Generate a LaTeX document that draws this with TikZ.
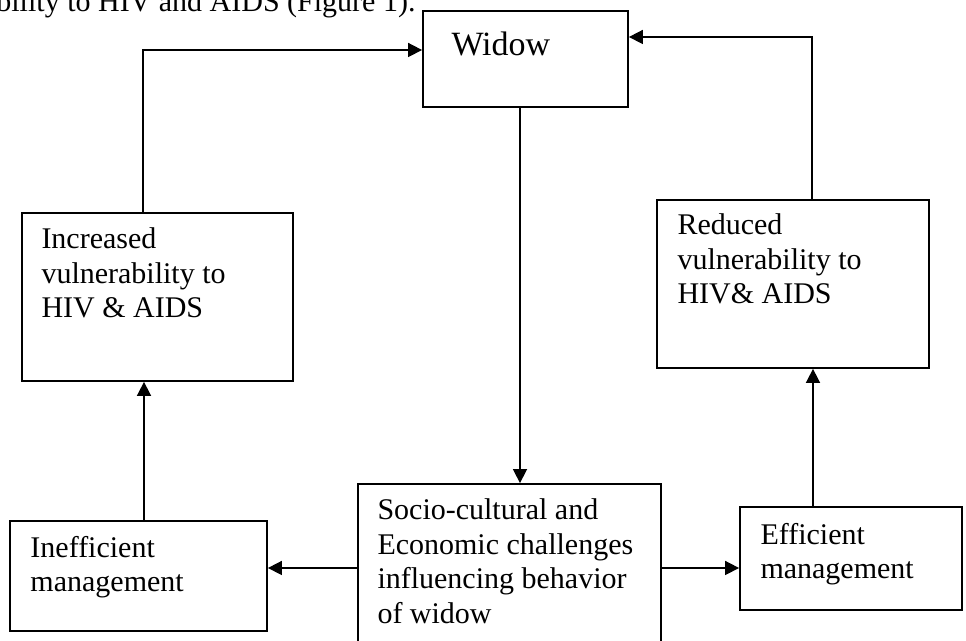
\documentclass[tikz,border=0pt]{standalone}
\usepackage{fontspec}
\setmainfont{Liberation Serif}
\usetikzlibrary{arrows.meta}
\begin{document}
\begin{tikzpicture}[x=0.5pt, y=0.5pt, >={Triangle[length=7pt,width=7pt]},
    box/.style={draw, line width=0.9pt, inner sep=0pt},
    txt/.style={font=\fontsize{15}{17.2}\selectfont, align=left, inner sep=0pt, anchor=north west},
    arr/.style={->, line width=0.8pt}]
    \useasboundingbox (0,0) rectangle (966,641);
    \clip (0,0) rectangle (966,641);
    % Line of body text above the figure
    \node[font=\fontsize{15}{17}\selectfont, anchor=base west, inner sep=0pt] (above) at (-4,629) {bility to HIV and AIDS (Figure 1).};
    % Boxes
    \node[box, minimum width=102.5pt, minimum height=48pt] (widow) at (525.5,582) {};
    \node[box, minimum width=135.5pt, minimum height=84pt] (inc) at (157.5,344) {};
    \node[box, minimum width=136pt, minimum height=84pt] (red) at (793,357) {};
    \node[box, minimum width=128.5pt, minimum height=55pt] (inef) at (138.5,65) {};
    \node[box, minimum width=151.5pt, minimum height=88pt] (socio) at (509.5,69) {};
    \node[box, minimum width=111pt, minimum height=51.5pt] (eff) at (851,82.5) {};
    % Texts
    \node[txt, font=\fontsize{17}{19}\selectfont] (widowT) at ([xshift=14.5pt, yshift=-10.5pt]widow.north west) {Widow};
    \node[txt] (incT) at ([xshift=10pt, yshift=-7.75pt]inc.north west) {Increased\\vulnerability to\\HIV \& AIDS};
    \node[txt] (redT) at ([xshift=10.5pt, yshift=-7.25pt]red.north west) {Reduced\\vulnerability to\\HIV\& AIDS};
    \node[txt] (inefT) at ([xshift=10.5pt, yshift=-7.75pt]inef.north west) {Inefficient\\management};
    \node[txt] (socioT) at ([xshift=10pt, yshift=-7.75pt]socio.north west) {Socio-cultural and\\Economic challenges\\influencing behavior\\of widow};
    \node[txt] (effT) at ([xshift=10.5pt, yshift=-8.25pt]eff.north west) {Efficient\\management};
    % Connectors
    \draw[arr] ([xshift=2.75pt]inef.north) -- ([xshift=2.75pt]inef.north |- inc.south);
    \draw[arr] ([xshift=-7.25pt]inc.north) |- ([yshift=4.5pt]widow.west);
    \draw[arr] ([xshift=-2.75pt]widow.south) -- ([xshift=-2.75pt]widow.south |- socio.north);
    \draw[arr] ([yshift=2pt]socio.west) -- ([yshift=2pt]socio.west -| inef.east);
    \draw[arr] ([yshift=2pt]socio.east) -- ([yshift=2pt]socio.east -| eff.west);
    \draw[arr] ([xshift=-19pt]eff.north) -- ([xshift=-19pt]eff.north |- red.south);
    \draw[arr] ([xshift=9.5pt]red.north) |- ([yshift=11pt]widow.east);
\end{tikzpicture}
\end{document}
